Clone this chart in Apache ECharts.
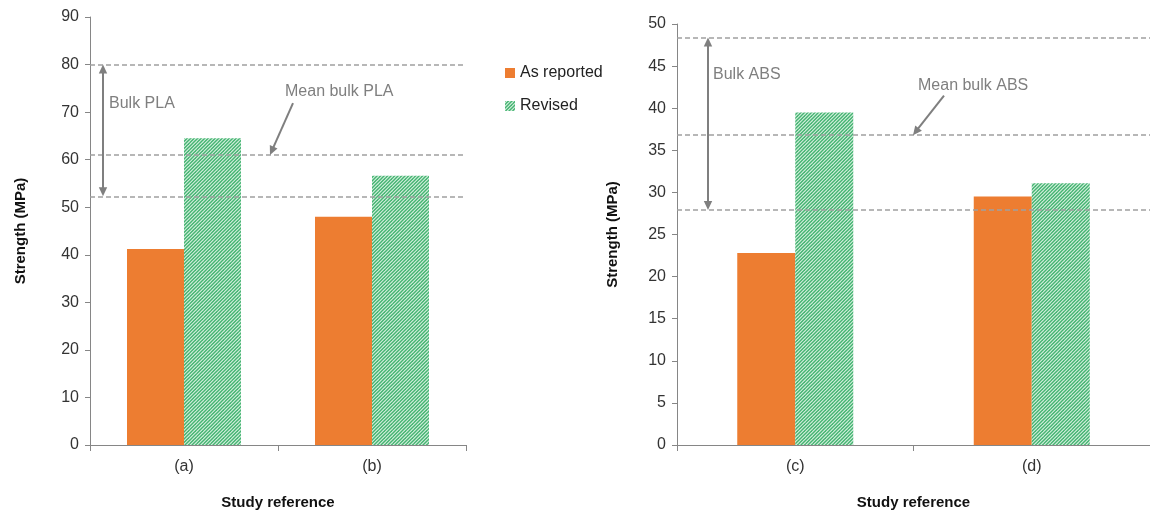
<!DOCTYPE html>
<html>
<head>
<meta charset="utf-8">
<script src="https://cdn.jsdelivr.net/npm/echarts@6/dist/echarts.min.js"></script>
<style>
  html, body { margin: 0; padding: 0; background: #fff; }
  #chart { width: 1150px; height: 515px; }
</style>
</head>
<body>
<div id="chart"></div>
<script>
// PLA panel
const plaCategories = ['(a)', '(b)'];
const plaReported = [41.2, 48.0];
const plaRevised = [64.5, 56.6];
const plaBulkMax = 80;
const plaBulkMean = 61;
const plaBulkMin = 52.3;

// ABS panel
const absCategories = ['(c)', '(d)'];
const absReported = [22.8, 29.5];
const absRevised = [39.5, 31.1];
const absBulkMax = 48.4;
const absBulkMean = 36.8;
const absBulkMin = 27.9;

const seriesNames = ['As reported', 'Revised'];
const ORANGE = '#ED7D31';
const FONT = '"Liberation Sans", Arial, sans-serif';

// diagonal hatch fill for the revised bars
function hatchPattern() {
  const c = document.createElement('canvas');
  c.width = 7; c.height = 7;
  const g = c.getContext('2d');
  g.fillStyle = '#dcf2e3';
  g.fillRect(0, 0, 7, 7);
  g.strokeStyle = '#45b472';
  g.lineWidth = 1.5;
  for (let k = -7; k <= 14; k += 3.5) {
    g.beginPath();
    g.moveTo(k - 3.5, 10.5);
    g.lineTo(k + 10.5, -3.5);
    g.stroke();
  }
  return { image: c, repeat: 'repeat' };
}
const HATCH = hatchPattern();

const dashLine = { type: [5, 3], color: '#a0a0a0', width: 1.5 };
function bulkLines(vals) {
  return {
    silent: true,
    symbol: 'none',
    label: { show: false },
    lineStyle: dashLine,
    data: vals.map(v => ({ yAxis: v }))
  };
}

const axisLineStyle = { lineStyle: { color: '#868686', width: 1 } };
const tickLabel = { fontFamily: FONT, fontSize: 16, color: '#333' };
const nameStyle = { fontFamily: FONT, fontSize: 15, fontWeight: 'bold', color: '#111' };

function xAxisFor(idx, cats) {
  return {
    type: 'category', gridIndex: idx, data: cats,
    axisLine: axisLineStyle,
    axisTick: { show: true, length: 6, lineStyle: { color: '#868686' } },
    axisLabel: Object.assign({ margin: 14 }, tickLabel, { fontSize: 16 }),
    name: 'Study reference', nameLocation: 'middle', nameGap: 50,
    nameTextStyle: nameStyle
  };
}
function yAxisFor(idx, max, interval, gap) {
  return {
    type: 'value', gridIndex: idx, min: 0, max: max, interval: interval,
    axisLine: Object.assign({ show: true }, axisLineStyle),
    axisTick: { show: true, length: 5, lineStyle: { color: '#868686' } },
    axisLabel: Object.assign({ margin: 11 }, tickLabel),
    splitLine: { show: false },
    name: 'Strength (MPa)', nameLocation: 'middle', nameGap: gap,
    nameTextStyle: nameStyle
  };
}

const chart = echarts.init(document.getElementById('chart'), null, { renderer: 'canvas' });

chart.setOption({
  animation: false,
  backgroundColor: '#fff',
  grid: [
    { left: 90, top: 17, width: 376, height: 428 },
    { left: 677, top: 24, width: 476, height: 423 }
  ],
  xAxis: [xAxisFor(0, plaCategories), xAxisFor(1, absCategories)],
  yAxis: [yAxisFor(0, 90, 10, 62), yAxisFor(1, 50, 5, 57)],
  legend: {
    orient: 'vertical', left: 500, top: 60,
    itemWidth: 10, itemHeight: 10, itemGap: 17,
    icon: 'rect',
    textStyle: { fontFamily: FONT, fontSize: 16, color: '#222' },
    data: seriesNames
  },
  series: [
    { name: seriesNames[0], type: 'bar', xAxisIndex: 0, yAxisIndex: 0,
      data: plaReported, barWidth: 57, barGap: '0%',
      itemStyle: { color: ORANGE },
      markLine: bulkLines([plaBulkMax, plaBulkMean, plaBulkMin]), z: 2 },
    { name: seriesNames[1], type: 'bar', xAxisIndex: 0, yAxisIndex: 0,
      data: plaRevised, barWidth: 57, barGap: '0%',
      itemStyle: { color: HATCH } },
    { name: seriesNames[0], type: 'bar', xAxisIndex: 1, yAxisIndex: 1,
      data: absReported, barWidth: 58, barGap: '0%',
      itemStyle: { color: ORANGE },
      markLine: bulkLines([absBulkMax, absBulkMean, absBulkMin]) },
    { name: seriesNames[1], type: 'bar', xAxisIndex: 1, yAxisIndex: 1,
      data: absRevised, barWidth: 58, barGap: '0%',
      itemStyle: { color: HATCH } }
  ]
});

// annotation arrows and labels, anchored to the value axes
const GREY = '#7f7f7f';
function py(grid, v) { return chart.convertToPixel({ yAxisIndex: grid }, v); }

function head(x, y, ang, len, half) {
  // filled triangle pointing in direction ang, tip at (x, y)
  const bx = x - Math.cos(ang) * len, by = y - Math.sin(ang) * len;
  const nx = -Math.sin(ang) * half, ny = Math.cos(ang) * half;
  return { type: 'polygon', shape: { points: [[x, y], [bx + nx, by + ny], [bx - nx, by - ny]] },
           style: { fill: GREY }, silent: true, z: 20 };
}
function arrow(x1, y1, x2, y2, both) {
  const ang = Math.atan2(y2 - y1, x2 - x1);
  const len = 9;
  const sx = both ? x1 + Math.cos(ang) * len * 0.8 : x1;
  const sy = both ? y1 + Math.sin(ang) * len * 0.8 : y1;
  const ex = x2 - Math.cos(ang) * len * 0.8, ey = y2 - Math.sin(ang) * len * 0.8;
  const els = [{ type: 'line', shape: { x1: sx, y1: sy, x2: ex, y2: ey },
                 style: { stroke: GREY, lineWidth: 2 }, silent: true, z: 20 },
               head(x2, y2, ang, len, 4.2)];
  if (both) els.push(head(x1, y1, ang + Math.PI, len, 4.2));
  return els;
}
function label(text, x, y) {
  return { type: 'text', x: x, y: y, silent: true, z: 20,
           style: { text: text, fill: GREY, font: '16px ' + FONT, textVerticalAlign: 'middle' } };
}

const g0 = 90, g1 = 677;
const elements = [].concat(
  arrow(g0 + 13, py(0, plaBulkMax), g0 + 13, py(0, plaBulkMin), true),
  [label('Bulk PLA', g0 + 19, py(0, 71.7))],
  [label('Mean bulk PLA', 285, py(0, 74.4))],
  arrow(293, py(0, 71.9), 270, py(0, plaBulkMean), false),
  arrow(g1 + 31, py(1, absBulkMax), g1 + 31, py(1, absBulkMin), true),
  [label('Bulk ABS', g1 + 36, py(1, 44.0))],
  [label('Mean bulk ABS', 918, py(1, 42.7))],
  arrow(944, py(1, 41.5), 913, py(1, absBulkMean), false)
);
chart.setOption({ graphic: { elements: elements } });
</script>
</body>
</html>
